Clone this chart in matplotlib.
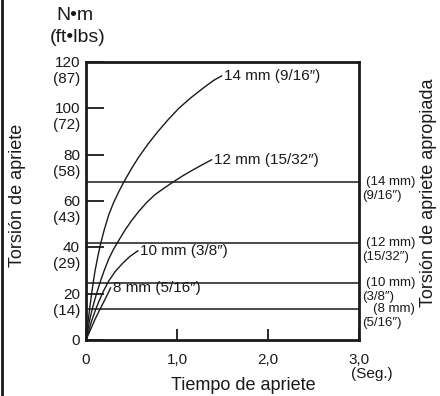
import matplotlib
matplotlib.use("Agg")
import matplotlib.pyplot as plt
from matplotlib.lines import Line2D

plt.rcParams['font.family'] = ['Liberation Sans', 'DejaVu Sans']

# ---- data ----
t14 = [0, 0.02, 0.04, 0.06, 0.08, 0.10, 0.13, 0.16, 0.20, 0.25, 0.30, 0.36, 0.42, 0.50,
       0.58, 0.68, 0.78, 0.90, 1.02, 1.15, 1.28, 1.40, 1.49]
v14 = [0, 7, 13.5, 19.5, 25, 30, 36, 41.5, 47.5, 54, 59, 64, 68.5, 74,
       79, 84.5, 89.5, 95, 100, 104.5, 108.5, 112, 114]
t12 = [0, 0.02, 0.04, 0.06, 0.09, 0.12, 0.16, 0.20, 0.25, 0.30, 0.36, 0.43, 0.50, 0.58,
       0.67, 0.76, 0.86, 0.95, 1.06, 1.17, 1.28, 1.38]
v12 = [0, 4.5, 8.5, 12, 16.5, 20.5, 25.5, 30, 35, 39, 43, 47.5, 51.5, 55.5,
       59.5, 62.8, 65.6, 68, 70.8, 73.3, 75.7, 77.8]
t10 = [0, 0.03, 0.06, 0.10, 0.14, 0.19, 0.25, 0.32, 0.40, 0.48, 0.57]
v10 = [0, 4, 8, 12.5, 16.5, 21, 25.5, 29.5, 33, 36, 38.5]
t8 = [0, 0.05, 0.10, 0.15, 0.20, 0.24, 0.27]
v8 = [0, 4.5, 9, 13, 16.8, 20, 22.5]
curve_labels = ["14 mm (9/16″)", "12 mm (15/32″)", "10 mm (3/8″)", "8 mm (5/16″)"]

proper_torque = [68, 42, 24.6, 13.5]
proper_lbl1 = ["(14 mm)", "(12 mm)", "(10 mm)", "(8 mm)"]
proper_lbl2 = ["(9/16″)", "(15/32″)", "(3/8″)", "(5/16″)"]

nm_ticks = [0, 20, 40, 60, 80, 100, 120]
ftlb_labels = ["", "(14)", "(29)", "(43)", "(58)", "(72)", "(87)"]
x_ticks = [0, 1, 2, 3]
x_labels = ["0", "1,0", "2,0", "3,0"]

W, H = 440, 396
fig = plt.figure(figsize=(W / 100, H / 100), dpi=100)
def fx(px): return px / W
def fy(py): return 1 - py / H

ink = '#1a1a1a'
ax = fig.add_axes([fx(86), fy(340), (359 - 86) / W, (340 - 62) / H])
ax.set_xlim(0, 3)
ax.set_ylim(0, 120)
for s in ax.spines.values():
    s.set_linewidth(2.0)
    s.set_color(ink)

fs = 11
curves = [(t14, v14), (t12, v12), (t10, v10), (t8, v8)]
for (t, v), lab in zip(curves, curve_labels):
    ax.plot(t, v, color=ink, lw=1.0)
    ax.annotate(lab, xy=(t[-1], v[-1]), xytext=(1.5, 0), textcoords='offset points',
                ha='left', va='center', fontsize=fs, color=ink)

for y, l1, l2 in zip(proper_torque, proper_lbl1, proper_lbl2):
    ax.axhline(y, color=ink, lw=1.1)
    ax.annotate(l1, xy=(1.0, y), xycoords=('axes fraction', 'data'),
                xytext=(56, 0), textcoords='offset pixels', ha='right', va='center',
                fontsize=9.5, color=ink, annotation_clip=False)
    ax.annotate(l2, xy=(1.0, y), xycoords=('axes fraction', 'data'),
                xytext=(3, -14), textcoords='offset pixels', ha='left', va='center',
                fontsize=9.5, color=ink, annotation_clip=False)

ax.set_yticks(nm_ticks)
ax.set_yticklabels([])
ax.tick_params(axis='y', direction='in', length=13, width=1.3, color=ink)
ax.set_xticks(x_ticks)
ax.set_xticklabels(x_labels, fontsize=fs, color=ink)
ax.tick_params(axis='x', direction='in', length=8, width=1.3, pad=9, color=ink)

for y, ft in zip(nm_ticks, ftlb_labels):
    ax.annotate(str(y), xy=(0, y), xycoords=('axes fraction', 'data'),
                xytext=(-6, -1), textcoords='offset pixels', ha='right', va='center',
                fontsize=fs, color=ink, annotation_clip=False)
    if ft:
        ax.annotate(ft, xy=(0, y), xycoords=('axes fraction', 'data'),
                    xytext=(-6, -17), textcoords='offset pixels', ha='right', va='center',
                    fontsize=fs, color=ink, annotation_clip=False)

fig.text(fx(75), fy(16), "N•m", ha='center', va='center', fontsize=14, color=ink)
fig.text(fx(78), fy(37), "(ft•lbs)", ha='center', va='center', fontsize=14, color=ink)
fig.text(fx(372), fy(374), "(Seg.)", ha='center', va='center', fontsize=fs, color=ink)
fig.text(fx(243), fy(386), "Tiempo de apriete", ha='center', va='center', fontsize=13, color=ink)
fig.text(fx(18), fy(195), "Torsión de apriete", ha='center', va='center', rotation=90,
         fontsize=13, color=ink)
fig.text(fx(428), fy(193), "Torsión de apriete apropiada", ha='center', va='center', rotation=90,
         fontsize=13, color=ink)

fig.add_artist(Line2D([fx(2), fx(2)], [0, 1], transform=fig.transFigure, color=ink, lw=2))

fig.savefig("out.png", dpi=100)
